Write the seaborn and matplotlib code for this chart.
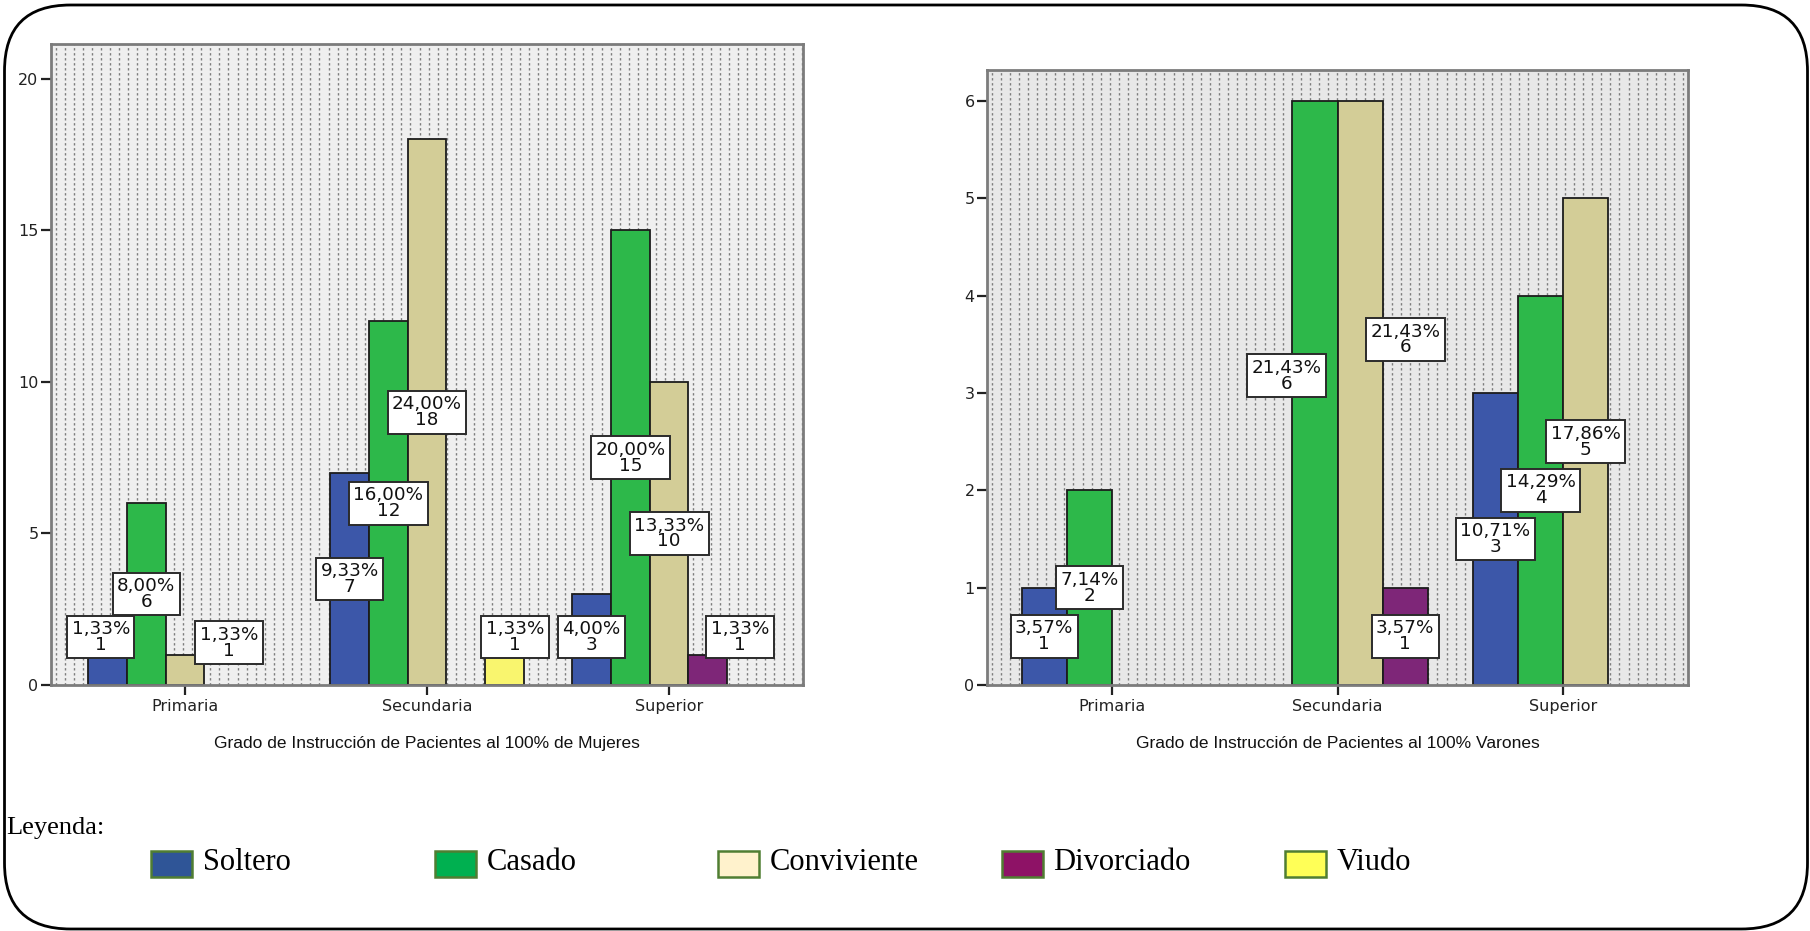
import numpy as np
import pandas as pd
import matplotlib
matplotlib.use("Agg")
import matplotlib.pyplot as plt
from matplotlib.patches import FancyBboxPatch, Rectangle
import seaborn as sns

# ---------------------------------------------------------------- data
grados = ["Primaria", "Secundaria", "Superior"]
estados = ["Soltero", "Casado", "Conviviente", "Divorciado", "Viudo"]

# Mujeres (n = 75)
muj_grado = ["Primaria"] * 3 + ["Secundaria"] * 4 + ["Superior"] * 4
muj_estado = ["Soltero", "Casado", "Conviviente",
              "Soltero", "Casado", "Conviviente", "Viudo",
              "Soltero", "Casado", "Conviviente", "Divorciado"]
muj_n = [1, 6, 1, 7, 12, 18, 1, 3, 15, 10, 1]

# Varones (n = 28)
var_grado = ["Primaria"] * 2 + ["Secundaria"] * 3 + ["Superior"] * 3
var_estado = ["Soltero", "Casado",
              "Casado", "Conviviente", "Divorciado",
              "Soltero", "Casado", "Conviviente"]
var_n = [1, 2, 6, 6, 1, 3, 4, 5]

muj_yticks = [0, 5, 10, 15, 20]
var_yticks = [0, 1, 2, 3, 4, 5, 6]

titulo_muj = "Grado de Instrucción de Pacientes al 100% de Mujeres"
titulo_var = "Grado de Instrucción de Pacientes al 100% Varones"

bar_colors = {"Soltero": "#3c57a9", "Casado": "#2db84a", "Conviviente": "#d3cd97",
              "Divorciado": "#7e2678", "Viudo": "#f9f56e"}
legend_colors = ["#2f5597", "#00b050", "#fff2cc", "#8e1266", "#ffff57"]

# ---------------------------------------------------------------- figure
sns.set_style("white")
plt.rcParams["font.family"] = ["DejaVu Sans"]

W, H = 1810, 931
fig = plt.figure(figsize=(W / 100, H / 100), dpi=100)


def axes_px(x0, y0, x1, y1):
    """Axes rectangle given in pixel corners measured from top-left."""
    return fig.add_axes([x0 / W, 1 - y1 / H, (x1 - x0) / W, (y1 - y0) / H])


def draw_panel(ax, grado, estado, n, hue_order, ymax, yticks, xlabel,
               facecolor, nudges):
    df = pd.DataFrame({"grado": grado, "estado": estado, "n": n})
    total = df["n"].sum()

    # dotted background texture
    ax.set_facecolor(facecolor)
    width_px = ax.get_position().width * W
    xs = np.arange(4.5 / width_px, 1, 9.1 / width_px)
    ax.vlines(xs, 0, 1, transform=ax.transAxes, colors="#7d7d7d",
              linewidth=1.0, linestyles=(0, (1.7, 1.9)), zorder=0.5)

    sns.barplot(data=df, x="grado", y="n", hue="estado", order=grados,
                hue_order=hue_order, palette=bar_colors, saturation=1,
                errorbar=None, width=0.8, edgecolor="#1c1c1c", linewidth=1.3,
                legend=False, zorder=2, ax=ax)

    ax.set_xlim(-0.553, 2.553)
    ax.set_ylim(0, ymax)
    ax.set_yticks(yticks)
    ax.set_ylabel("")
    ax.set_xlabel(xlabel, fontsize=12.5, family="Liberation Sans",
                  labelpad=16, color="#111111")
    for s in ax.spines.values():
        s.set_color("#7c7c7c")
        s.set_linewidth(2)
    ax.tick_params(axis="both", direction="out", length=7, width=1.6,
                   color="#222222", labelsize=11.5, labelcolor="#222222",
                   pad=2, bottom=True, left=True)
    ax.tick_params(axis="x", pad=3)

    nh = len(hue_order)
    bw = 0.8 / nh
    for g, e, v in zip(grado, estado, n):
        dx, dy = nudges.get((g, e), (0.0, 0.0))
        x = grados.index(g) + (hue_order.index(e) - (nh - 1) / 2) * bw + dx * bw
        y = max(v / 2, ymax * 0.075) + dy
        txt = f"{100 * v / total:.2f}%".replace(".", ",") + f"\n{v}"
        ax.text(x, y, txt, ha="center", va="center", fontsize=13.2,
                linespacing=0.85, color="#111111",
                bbox=dict(boxstyle="square,pad=0.24", fc="white",
                          ec="#2b2b2b", lw=1.4), zorder=5)


ax_m = axes_px(51, 44, 803, 685)
draw_panel(ax_m, muj_grado, muj_estado, muj_n, estados, 21.15, muj_yticks,
           titulo_muj, "#efefef",
           {("Primaria", "Soltero"): (-0.17, 0.0),
            ("Primaria", "Conviviente"): (1.14, -0.19),
            ("Secundaria", "Viudo"): (0.27, 0.0),
            ("Superior", "Divorciado"): (0.83, 0.0)})

ax_v = axes_px(987, 70, 1688, 685)
draw_panel(ax_v, var_grado, var_estado, var_n, estados[:4], 6.32, var_yticks,
           titulo_var, "#e8e8e8",
           {("Secundaria", "Casado"): (-0.63, 0.18),
            ("Secundaria", "Conviviente"): (1.0, 0.55)})

# ---------------------------------------------------------------- legend
fig.text(6 / W, 1 - 828 / H, "Leyenda:", family="Liberation Serif",
         fontsize=19, va="center", ha="left", color="black")
for i, (lab, col) in enumerate(zip(estados, legend_colors)):
    x0 = 151 + i * 283.5
    fig.add_artist(Rectangle((x0 / W, 1 - 877 / H), 41 / W, 26 / H,
                             transform=fig.transFigure, fc=col,
                             ec="#507e32", lw=1.8))
    fig.text((x0 + 52) / W, 1 - 863 / H, lab, family="Liberation Serif",
             fontsize=22, va="center", ha="left", color="black")

# rounded frame around the whole figure (inch units keep the corners circular)
frame = FancyBboxPatch((0.045, 0.02), 18.03, 9.24,
                       boxstyle="round,pad=0,rounding_size=0.66",
                       transform=fig.dpi_scale_trans, fill=False,
                       ec="black", lw=2.0)
fig.add_artist(frame)

fig.savefig("out.png", dpi=100)
